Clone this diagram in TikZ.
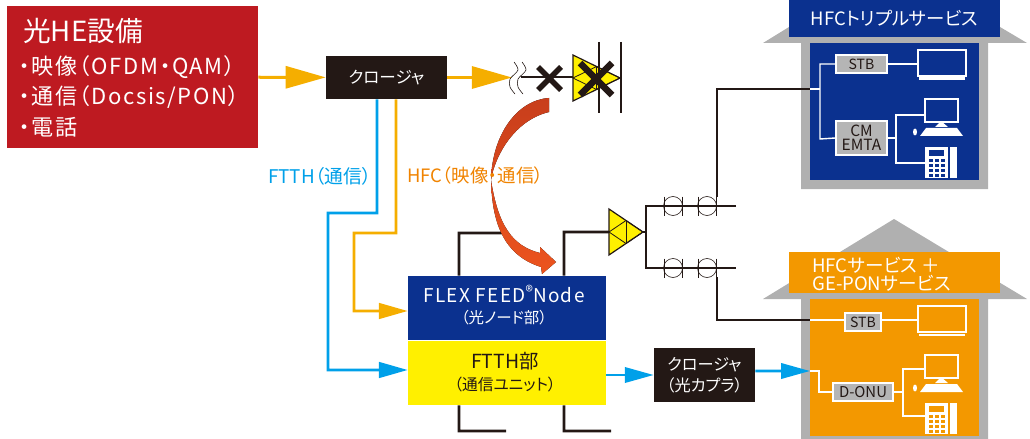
\documentclass[tikz,border=0pt]{standalone}
\usepackage{fontspec}
\setmainfont[RawFeature=+palt]{Noto Sans CJK JP}
\newfontface\spaced[RawFeature=+palt, LetterSpace=7]{Noto Sans CJK JP}
\usetikzlibrary{arrows.meta,positioning,calc}
\newcommand{\fsz}[1]{\fontsize{#1}{#1}\selectfont}
\definecolor{heRed}{RGB}{190,26,33}
\definecolor{inkBlack}{RGB}{35,24,21}
\definecolor{hfcOrange}{RGB}{245,174,0}
\definecolor{ftthBlue}{RGB}{0,160,233}
\definecolor{labelOrange}{RGB}{240,131,0}
\definecolor{nodeBlue}{RGB}{11,49,143}
\definecolor{ftthYellow}{RGB}{255,240,0}
\definecolor{ponOrange}{RGB}{243,152,0}
\definecolor{roofGray}{RGB}{176,176,176}
\definecolor{devGray}{RGB}{181,181,181}
\definecolor{curveTop}{RGB}{200,62,28}
\definecolor{curveEnd}{RGB}{236,84,30}
\tikzset{
  box/.style={inner sep=0pt, align=center, text=white},
  blk/.style={box, fill=inkBlack},
  dev/.style={draw=white, line width=0.035cm, fill=devGray, inner sep=0pt, align=center, text=inkBlack},
  txt/.style={inner sep=0pt, align=left, anchor=west},
  wire/.style={inkBlack, line width=0.065cm},
  thin wire/.style={inkBlack, line width=0.02cm},
  inner wire/.style={white, line width=0.035cm},
  orange flow/.style={hfcOrange, line width=0.075cm, -{Triangle[length=1cm, width=5.5mm]}},
  small orange/.style={hfcOrange, line width=0.07cm, -{Triangle[length=7.2mm, width=3.9mm]}},
  blue flow/.style={ftthBlue, line width=0.07cm, -{Triangle[length=7.2mm, width=3.9mm]}},
  small blue/.style={ftthBlue, line width=0.07cm, -{Triangle[length=7.2mm, width=3.8mm]}},
  cross/.style={inkBlack, line width=0.14cm},
}

\begin{document}
\begin{tikzpicture}[x=0.025cm, y=-0.025cm]
  \useasboundingbox (0,0) rectangle (1030,439);

  % head end
  \node[box, fill=heRed, minimum width=6.275cm, minimum height=3.55cm] (he) at (132.5,77) {};
  \node[txt, text=white, font=\fsz{19.7}] (hetitle) at (23,31) {光HE設備};
  \node[txt, text=white, font=\spaced\fsz{15.7}] (heone) at (19,67) {・映像（OFDM・QAM）};
  \node[txt, text=white, font=\spaced\fsz{15.7}] (hetwo) at (19,97) {・通信（Docsis/PON）};
  \node[txt, text=white, font=\spaced\fsz{15.7}] (hethree) at (19,127) {・電話};
  \node[blk, minimum width=3.025cm, minimum height=1.075cm, font=\fsz{11.75}] (clo) at (386.5,77.5) {クロージャ};
  \draw[orange flow] (he) -- (clo);

  % break and cut off amp
  \coordinate (brk) at (512,77.5);
  \coordinate (cut) at (573,77.5);
  \draw[orange flow] (clo) -- (brk);
  \foreach \wx in {0,8}
    \draw[thin wire, line width=0.015cm] plot[smooth] coordinates {(514+\wx,62) (518+\wx,70) (510+\wx,79) (510+\wx,87) (515+\wx,94)};
  \draw[wire, line width=0.05cm] (521,77.5) -- (cut);
  \draw[cross] (538,67) -- (561,90) (561,67) -- (538,90);

  % lines to the node
  \node[box, fill=nodeBlue, minimum width=4.95cm, minimum height=1.6cm] (flex) at (507,308) {};
  \node[box, fill=ftthYellow, minimum width=4.95cm, minimum height=1.6cm] (ftth) at (507,373) {};
  \node[box, font=\spaced\fsz{13.5}] (flexname) at (504,294) {FLEX FEED\raisebox{0.3em}{\fsz{11}®}Node};
  \node[box, font=\fsz{11}] (flexsub) at (504,318) {（光ノード部）};
  \node[box, text=inkBlack, font=\fsz{13.8}] (ftthname) at (505,361) {FTTH部};
  \node[box, text=inkBlack, font=\fsz{11.2}] (ftthsub) at (505,385) {（通信ユニット）};
  \draw[blue flow] ([xshift=-0.2375cm]clo.south) -- (377,213) -- (328,213) -- (328,370) -- ([yshift=0.075cm]ftth.west);
  \draw[small orange] ([xshift=0.2375cm]clo.south) -- (396,233) -- (354,233) -- (354,311) -- ([yshift=-0.075cm]flex.west);

  % node stubs
  \coordinate (ampin) at (609,232);
  \draw[wire] ([xshift=-1.2cm]flex.north) -- (459,233) -- (506,233);
  \draw[wire] ([xshift=1.425cm]flex.north) -- (564,232) -- (ampin);
  \draw[wire] ([xshift=-1.2cm]ftth.south) -- (459,431) -- (506,431);
  \draw[wire] ([xshift=1.425cm]ftth.south) -- (564,431) -- (611,431);

  % the curved arrow
  \fill[top color=curveTop, bottom color=curveEnd]
    (549,98) .. controls (517,100) and (492,135) .. (491,180)
    .. controls (492,222) and (503,255) .. (541,267)
    -- (542,274) -- (556,262) -- (540,247) -- (540,253)
    .. controls (512,246) and (498,225) .. (491,180)
    .. controls (495,155) and (515,120) .. (549,112) -- cycle;
  \node[txt, text=ftthBlue, font=\fsz{13.4}] (ftthlbl) at (268,176) {FTTH（通信）};
  \node[txt, text=labelOrange, font=\fsz{13.1}] (hfclbl) at (407,176) {HFC（映像・通信）};

  % amps
  \foreach \ax/\ay/\aw in {573/78/47,609/232/34} {
    \draw[thin wire, line width=0.03cm, fill=ftthYellow] (\ax,\ay-23) -- (\ax+\aw,\ay) -- (\ax,\ay+23) -- cycle;
    \draw[thin wire] (\ax,\ay) -- (\ax+\aw/2,\ay-11.5) -- (\ax+\aw,\ay) -- (\ax+\aw/2,\ay+11.5) -- cycle;
    \draw[thin wire] (\ax+\aw/2,\ay-11.5) -- (\ax+\aw/2,\ay+11.5);
  }
  \draw[wire, line width=0.05cm] (599,42) -- (599,113);
  \draw[wire, line width=0.05cm] (621,42) -- (621,113);
  \draw[cross, line width=0.16cm] (580,63) -- (612,95) (612,63) -- (580,95);

  % branches with couplers
  \coordinate (tapa) at (736,206);
  \coordinate (tapb) at (736,268);
  \draw[wire, line width=0.045cm] (tapa) -- (646,206) -- (646,268) -- (tapb);
  \draw[wire, line width=0.045cm] (643,232) -- (646,232);
  \foreach \cy in {206,268}
    \foreach \cx in {673,707} {
      \draw[thin wire, line width=0.015cm] (\cx,\cy) circle (9.5);
      \draw[thin wire, line width=0.015cm] (\cx-9,\cy-9.5) -- (\cx-9,\cy+9.5) (\cx+9,\cy-9.5) -- (\cx+9,\cy+9.5);
    }

  % houses
  \fill[roofGray] (763,43) -- (789,27) -- (1000,27) -- (1027,43) -- (988,43) -- (988,189) -- (801,189) -- (801,43) -- cycle;
  \fill[roofGray] (763,299) -- (894,219) -- (1027,299) -- (988,299) -- (988,439) -- (801,439) -- (801,299) -- cycle;
  \node[box, fill=nodeBlue, minimum width=5.275cm, minimum height=0.925cm, font=\fsz{13.1}] (hfchead) at (894.5,18.5) {HFCトリプルサービス};
  \node[box, fill=nodeBlue, minimum width=4.225cm, minimum height=3.425cm] (hfchouse) at (894.5,111.5) {};
  \node[box, fill=ponOrange, minimum width=5.275cm, minimum height=1.025cm] (ponhead) at (894.5,272.5) {};
  \node[txt, text=white, font=\fsz{13.2}] (ponone) at (812,265) {HFCサービス ＋};
  \node[txt, text=white, font=\fsz{13.2}] (pontwo) at (812,283) {GE-PONサービス};
  \node[box, fill=ponOrange, minimum width=4.225cm, minimum height=3.425cm] (ponhouse) at (894.5,367.5) {};

  % drops into the houses
  \draw[wire] (717,197) -- (717,89) -- (810,89);
  \draw[wire] (717,277) -- (717,320) -- (810,320);
  \node[blk, minimum width=2.525cm, minimum height=1.35cm, font=\fsz{11.5}] (clob) at (704.5,375) {クロージャ\\[0.3em]（光カプラ）};
  \draw[small blue] (ftth.east |- clob) -- (clob);
  \draw[small blue] ([yshift=0.1cm]clob.east) -- (810,371);

  % equipment
  \node[dev, minimum width=1.275cm, minimum height=0.45cm, font=\fsz{10}] (stba) at (861.5,64) {STB};
  \node[dev, minimum width=1.275cm, minimum height=0.85cm, font=\fsz{11}] (cm) at (861.5,138) {CM\\[-0.1em]EMTA};
  \node[dev, minimum width=0.9cm, minimum height=0.45cm, font=\fsz{10}] (stbb) at (863,322) {STB};
  \node[dev, minimum width=1.5cm, minimum height=0.45cm, font=\fsz{10.6}] (onu) at (863,392) {D-ONU};
  \draw[inner wire] (stba.west) -- (820,64) -- (820,139) -- (cm.west);
  \draw[inner wire] (810,89) -- (820,89);
  \draw[inner wire] (stba.east) -- (917,64);
  \draw[inner wire] (924,115) -- (896,115) -- (896,163) -- (925,163);
  \draw[inner wire] (cm.east) -- (896,138);
  \draw[inner wire] (810,320) -- (845,320);
  \draw[inner wire] (881,320) -- (917,320);
  \draw[inner wire] (810,371) -- (819,371) -- (819,392) -- (onu.west);
  \draw[inner wire] (924,369) -- (903,369) -- (903,416) -- (925,416);
  \draw[inner wire] (onu.east) -- (903,392);
  \foreach \oy/\bg in {0/nodeBlue,256/ponOrange} {
    \begin{scope}[shift={(0,\oy)}]
      % tv
      \draw[white, line width=0.05cm] (918,50) rectangle (966,76);
      \fill[white] (919,77.5) rectangle (965,80);
      % pc
      \draw[white, line width=0.05cm] (925,99) rectangle (958,122);
      \fill[white] (935,127) -- (941,121) -- (948,127) -- cycle;
      \fill[white] (926,128) -- (957,128) -- (963,136) -- (920,136) -- cycle;
      \fill[white] (915,132) ellipse (2 and 3.5);
      % phone
      \fill[white] (925,147) rectangle (948,178);
      \fill[white] (950,147) rectangle (957,178);
      \fill[\bg] (929,150) rectangle (944,156);
      \foreach \kx in {929,935,941}
        \foreach \ky in {159,164,169,174}
          \fill[\bg] (\kx,\ky) rectangle (\kx+3.5,\ky+3);
    \end{scope}
  }
\end{tikzpicture}
\end{document}
